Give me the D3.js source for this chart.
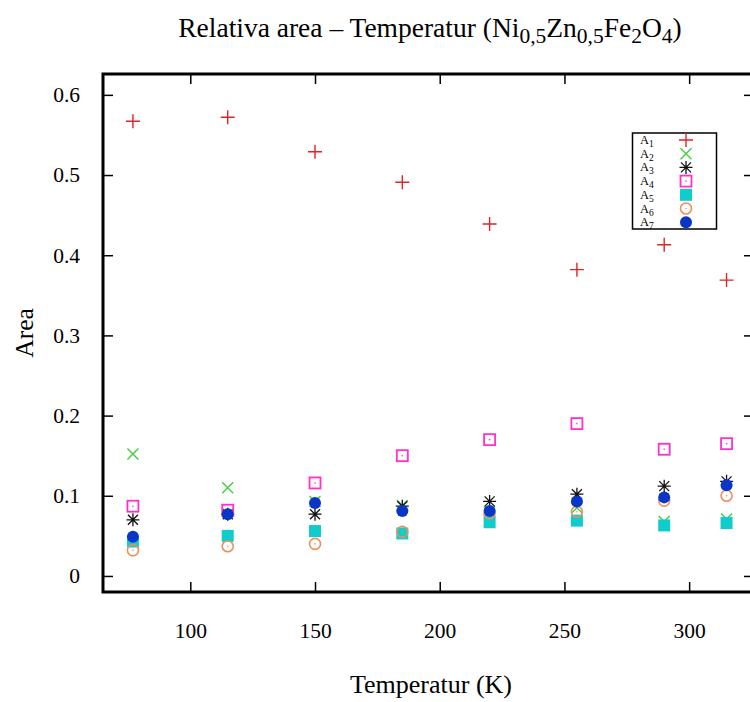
<!DOCTYPE html>
<html>
<head>
<meta charset="utf-8">
<script src="https://cdn.jsdelivr.net/npm/d3@7"></script>
<style>
  body { margin: 0; background: #fff; }
  svg { display: block; }
</style>
</head>
<body>
<div id="chart"></div>
<script>
// temperatures (K)
const temps = [77, 115, 150, 185, 220, 255, 290, 315];

// relative areas per component
const a1 = [0.567, 0.572, 0.529, 0.491, 0.439, 0.382, 0.413, 0.369];
const a2 = [0.152, 0.110, 0.093, 0.088, 0.080, 0.085, 0.068, 0.071];
const a3 = [0.070, 0.077, 0.077, 0.087, 0.093, 0.102, 0.112, 0.118];
const a4 = [0.087, 0.082, 0.116, 0.150, 0.170, 0.190, 0.158, 0.165];
const a5 = [0.043, 0.050, 0.056, 0.053, 0.067, 0.069, 0.063, 0.066];
const a6 = [0.032, 0.037, 0.040, 0.055, 0.078, 0.080, 0.094, 0.100];
const a7 = [0.049, 0.077, 0.091, 0.081, 0.081, 0.093, 0.098, 0.113];

const xTicks = [100, 150, 200, 250, 300];
const yTicks = [0, 0.1, 0.2, 0.3, 0.4, 0.5, 0.6];

const series = [
    { sub: "1", values: a1, shape: "plus",    color: "#e02424" },
    { sub: "2", values: a2, shape: "cross",   color: "#44cc44" },
    { sub: "3", values: a3, shape: "star",    color: "#111111" },
    { sub: "4", values: a4, shape: "box",     color: "#ff30cc" },
    { sub: "5", values: a5, shape: "fbox",    color: "#10cccc" },
    { sub: "6", values: a6, shape: "circle",  color: "#e8925e" },
    { sub: "7", values: a7, shape: "fcircle", color: "#0a36c8" }
];

const width = 750, height = 702;
const margin = { top: 74, right: -4, bottom: 110, left: 103 };
const font = "'Liberation Serif', 'Times New Roman', serif";

const svg = d3.select("#chart").append("svg")
    .attr("width", width)
    .attr("height", height);

const x = d3.scaleLinear()
    .domain([65, 326])
    .range([margin.left, width - margin.right]);

const y = d3.scaleLinear()
    .domain([-0.02, 0.626])
    .range([height - margin.bottom, margin.top]);

function drawMarker(g, shape, color) {
    if (shape === "plus") {
        g.append("path").attr("d", "M-7,0H7M0,-7V7")
            .attr("stroke", color).attr("stroke-width", 1.4).attr("fill", "none");
    } else if (shape === "cross") {
        g.append("path").attr("d", "M-5.5,-5.5L5.5,5.5M-5.5,5.5L5.5,-5.5")
            .attr("stroke", color).attr("stroke-width", 1.4).attr("fill", "none");
    } else if (shape === "star") {
        g.append("path").attr("d", "M-6.5,0H6.5M0,-6.5V6.5M-5,-5L5,5M-5,5L5,-5")
            .attr("stroke", color).attr("stroke-width", 1.3).attr("fill", "none");
    } else if (shape === "box") {
        g.append("rect").attr("x", -5.5).attr("y", -5.5).attr("width", 11).attr("height", 11)
            .attr("stroke", color).attr("stroke-width", 1.8).attr("fill", "none");
        g.append("circle").attr("r", 0.8).attr("fill", color);
    } else if (shape === "fbox") {
        g.append("rect").attr("x", -6).attr("y", -6).attr("width", 12).attr("height", 12)
            .attr("fill", color);
    } else if (shape === "circle") {
        g.append("circle").attr("r", 5.5)
            .attr("stroke", color).attr("stroke-width", 1.6).attr("fill", "none");
        g.append("circle").attr("r", 0.8).attr("fill", color);
    } else {
        g.append("circle").attr("r", 6).attr("fill", color);
    }
}

// axes with inward ticks, mirrored on top and right
function styleAxis(g) {
    g.select(".domain").remove();
    g.selectAll(".tick line").attr("stroke", "#000").attr("stroke-width", 1.5);
    g.selectAll("text")
        .attr("font-family", font)
        .attr("font-size", "21.5px")
        .attr("fill", "#000");
}

svg.append("g")
    .attr("transform", `translate(0,${y.range()[0]})`)
    .call(d3.axisBottom(x).tickValues(xTicks).tickSize(-10).tickPadding(31).tickFormat(d3.format("d")))
    .call(styleAxis);

svg.append("g")
    .attr("transform", `translate(0,${y.range()[1]})`)
    .call(d3.axisTop(x).tickValues(xTicks).tickSize(-10).tickFormat(""))
    .call(styleAxis);

svg.append("g")
    .attr("transform", `translate(${x.range()[0]},0)`)
    .call(d3.axisLeft(y).tickValues(yTicks).tickSize(-10).tickPadding(23)
        .tickFormat(d => d === 0 ? "0" : d3.format(".1f")(d)))
    .call(styleAxis);

svg.append("g")
    .attr("transform", `translate(${x.range()[1]},0)`)
    .call(d3.axisRight(y).tickValues(yTicks).tickSize(-10).tickFormat(""))
    .call(styleAxis);

// frame
svg.append("rect")
    .attr("x", x.range()[0])
    .attr("y", y.range()[1])
    .attr("width", x.range()[1] - x.range()[0])
    .attr("height", y.range()[0] - y.range()[1])
    .attr("fill", "none")
    .attr("stroke", "#000")
    .attr("stroke-width", 3);

// points
series.forEach(s => {
    svg.append("g")
        .selectAll("g")
        .data(s.values.map((v, i) => ({ t: temps[i], v: v })))
        .join("g")
        .attr("transform", d => `translate(${x(d.t)},${y(d.v)})`)
        .each(function() { drawMarker(d3.select(this), s.shape, s.color); });
});

// legend
const legend = svg.append("g");
legend.append("rect")
    .attr("x", 632.5).attr("y", 133)
    .attr("width", 84).attr("height", 96)
    .attr("fill", "#fff")
    .attr("stroke", "#000")
    .attr("stroke-width", 1.5);

series.forEach((s, i) => {
    const ly = 140 + i * 13.7;
    legend.append("text")
        .attr("x", 640)
        .attr("y", ly + 4)
        .attr("font-family", font)
        .attr("font-size", "12.4px")
        .attr("fill", "#000")
        .text("A");
    legend.append("text")
        .attr("x", 649)
        .attr("y", ly + 7)
        .attr("font-family", font)
        .attr("font-size", "9.5px")
        .attr("fill", "#000")
        .text(s.sub);
    const m = legend.append("g").attr("transform", `translate(686,${ly})`);
    drawMarker(m, s.shape, s.color);
});

// title
const title = svg.append("text")
    .attr("x", 430)
    .attr("y", 37)
    .attr("text-anchor", "middle")
    .attr("font-family", font)
    .attr("font-size", "27.5px")
    .attr("fill", "#000");
const parts = [
    ["Relativa area \u2013 Temperatur (Ni", false], ["0,5", true],
    ["Zn", false], ["0,5", true], ["Fe", false], ["2", true],
    ["O", false], ["4", true], [")", false]
];
let down = false;
parts.forEach(([txt, sub]) => {
    const sp = title.append("tspan").text(txt);
    if (sub && !down) { sp.attr("dy", 6).attr("font-size", "21.5px"); down = true; }
    else if (sub) { sp.attr("font-size", "21.5px"); }
    else if (down) { sp.attr("dy", -6); down = false; }
});

// axis labels
svg.append("text")
    .attr("x", 431)
    .attr("y", 693)
    .attr("text-anchor", "middle")
    .attr("font-family", font)
    .attr("font-size", "26px")
    .attr("fill", "#000")
    .text("Temperatur (K)");

svg.append("text")
    .attr("transform", `translate(33,${(y.range()[0] + y.range()[1]) / 2}) rotate(-90)`)
    .attr("text-anchor", "middle")
    .attr("font-family", font)
    .attr("font-size", "25.5px")
    .attr("fill", "#000")
    .text("Area");
</script>
</body>
</html>
